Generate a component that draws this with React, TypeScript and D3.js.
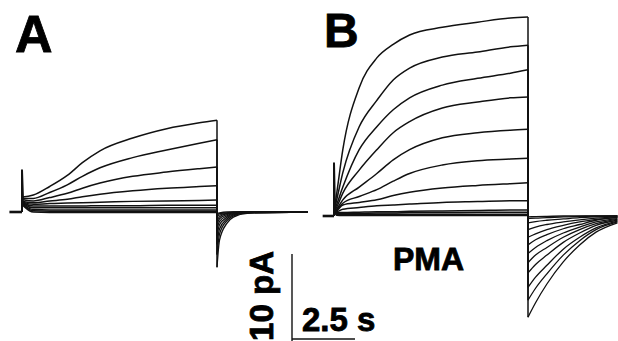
import * as d3 from 'd3';

const W = 618;
const H = 341;

// time (s) from the start of the depolarising step
const timesA = [0, 0.1, 0.45, 1.1, 1.8, 2.4, 3.1, 4.4, 5.75, 7.05, 7.75];
const timesB = [0, 0.1, 0.35, 1.0, 1.7, 2.35, 3.0, 4.3, 5.7, 7.0, 7.7];

// current (pA) during the step, control (A)
const stepA = [
  [1.8, 1.8, 2.0, 3.0, 4.3, 5.8, 7.2, 8.7, 9.8, 10.5, 10.8],
  [1.7, 1.6, 1.6, 2.3, 3.2, 4.2, 5.2, 6.4, 7.3, 8.1, 8.5],
  [1.6, 1.4, 1.3, 1.7, 2.2, 2.8, 3.4, 4.2, 4.7, 5.1, 5.3],
  [1.5, 1.2, 1.1, 1.3, 1.5, 1.8, 2.1, 2.5, 2.8, 3.0, 3.1],
  [1.4, 1.1, 0.9, 1.0, 1.05, 1.1, 1.15, 1.25, 1.3, 1.35, 1.4],
  [1.3, 1.0, 0.7, 0.7, 0.7, 0.7, 0.75, 0.75, 0.8, 0.8, 0.8],
  [1.2, 0.9, 0.5, 0.5, 0.5, 0.5, 0.5, 0.5, 0.5, 0.5, 0.5],
  [1.1, 0.8, 0.3, 0.25, 0.25, 0.25, 0.25, 0.25, 0.25, 0.25, 0.25],
  [1.0, 0.7, 0.15, 0.1, 0.1, 0.1, 0.1, 0.1, 0.1, 0.1, 0.1],
  [0.9, 0.6, 0.0, -0.05, -0.05, -0.05, -0.05, -0.05, -0.05, -0.05, -0.05],
];

// current (pA) during the step, PMA (B)
const stepB = [
  [0.5, 2.5, 7.8, 15.1, 18.6, 20.2, 21.3, 22.2, 22.8, 23.3, 23.4],
  [0.5, 1.8, 5.1, 10.5, 13.6, 16.0, 17.4, 18.7, 19.3, 19.9, 20.1],
  [0.5, 1.3, 3.4, 7.8, 10.5, 12.5, 13.9, 15.4, 16.2, 16.8, 17.2],
  [0.5, 1.0, 2.7, 5.4, 7.8, 9.8, 11.1, 12.7, 13.4, 13.9, 14.0],
  [0.5, 0.8, 1.9, 3.4, 5.0, 6.6, 7.8, 9.2, 9.8, 10.1, 10.2],
  [0.5, 0.7, 1.5, 2.3, 3.1, 4.1, 5.0, 6.0, 6.5, 6.7, 6.8],
  [0.5, 0.6, 1.3, 1.6, 1.9, 2.4, 2.8, 3.3, 3.6, 3.8, 3.9],
  [0.5, 0.5, 0.8, 1.0, 1.2, 1.3, 1.4, 1.6, 1.7, 1.8, 1.8],
  [0.5, 0.4, 0.4, 0.45, 0.5, 0.5, 0.55, 0.6, 0.65, 0.7, 0.7],
  [0.5, 0.3, 0.3, 0.3, 0.35, 0.35, 0.4, 0.4, 0.45, 0.45, 0.45],
  [0.5, 0.2, 0.2, 0.2, 0.2, 0.2, 0.2, 0.2, 0.2, 0.2, 0.2],
  [0.5, 0.1, 0.05, 0.05, 0.05, 0.05, 0.05, 0.05, 0.05, 0.05, 0.05],
];

// tail currents after repolarisation (s after step end, pA)
const tailTimesA = [0, 0.1, 0.4, 0.65, 1.2, 3.6];
const tailA = [
  [-6.5, -3.3, -1.3, -0.6, -0.15, 0],
  [-5.0, -2.6, -1.0, -0.45, -0.1, 0],
  [-3.8, -2.0, -0.8, -0.35, -0.1, 0],
  [-2.8, -1.5, -0.6, -0.25, -0.05, 0],
  [-2.0, -1.1, -0.45, -0.2, -0.05, 0],
  [-1.4, -0.8, -0.3, -0.1, 0, 0],
  [-1.0, -0.55, -0.2, -0.1, 0, 0],
  [-0.6, -0.35, -0.15, -0.05, 0, 0],
  [-0.4, -0.2, -0.1, 0, 0, 0],
  [-0.2, -0.1, 0, 0, 0, 0],
];

const tailTimesB = [0, 0.3, 0.75, 1.4, 2.05, 2.7, 3.55];
const tailB = [
  [-11.9, -10.2, -8.0, -5.4, -3.4, -1.9, -0.8],
  [-9.9, -8.5, -6.8, -4.6, -2.9, -1.6, -0.7],
  [-8.4, -7.2, -5.8, -3.9, -2.5, -1.4, -0.6],
  [-6.7, -5.7, -4.6, -3.1, -2.0, -1.1, -0.5],
  [-5.5, -4.6, -3.7, -2.5, -1.6, -0.9, -0.4],
  [-4.4, -3.7, -2.9, -2.0, -1.3, -0.7, -0.3],
  [-3.4, -2.8, -2.2, -1.5, -1.0, -0.5, -0.2],
  [-2.5, -2.1, -1.6, -1.1, -0.7, -0.4, -0.15],
  [-1.6, -1.3, -1.0, -0.7, -0.45, -0.25, -0.1],
  [-0.8, -0.65, -0.5, -0.35, -0.2, -0.1, 0],
  [-0.3, -0.25, -0.2, -0.1, -0.05, 0, 0],
  [-0.1, -0.08, -0.05, 0, 0, 0, 0],
];

// holding segment before the step and capacitive spike
const preA = [-0.5, 0];
const preB = [-0.45, 0];
const spikeTimes = [0, 0, 0.04];
const spikeA = [0, 4.9, 1.5];
const spikeB = [0, 6.2, 0.6];

const INK = '#111';
const FONT = '"Liberation Sans", Arial, sans-serif';

type Pt = [number, number];

interface PanelProps {
  x: d3.ScaleLinear<number, number>;
  y: d3.ScaleLinear<number, number>;
  times: number[];
  step: number[][];
  tailTimes: number[];
  tail: number[][];
  pre: number[];
  spike: number[];
}

const Panel = ({ x, y, times, step, tailTimes, tail, pre, spike }: PanelProps) => {
  const tEnd = times[times.length - 1];
  const smooth = d3
    .line<Pt>()
    .x((d) => x(d[0]))
    .y((d) => y(d[1]))
    .curve(d3.curveMonotoneX);
  const straight = d3
    .line<Pt>()
    .x((d) => x(d[0]))
    .y((d) => y(d[1]));

  return (
    <g fill="none" stroke={INK} strokeLinejoin="round">
      <path d={straight(pre.map((t) => [t, 0] as Pt)) ?? ''} strokeWidth={2.6} />
      {step.map((vals, i) => (
        <path
          key={`s${i}`}
          d={smooth(times.map((t, j) => [t, vals[j]] as Pt)) ?? ''}
          strokeWidth={1.5}
        />
      ))}
      {tail.map((vals, i) => (
        <path
          key={`t${i}`}
          d={smooth(tailTimes.map((t, j) => [tEnd + t, vals[j]] as Pt)) ?? ''}
          strokeWidth={1.3}
        />
      ))}
      {step.map((vals, i) => (
        <line
          key={`v${i}`}
          x1={x(tEnd)}
          x2={x(tEnd)}
          y1={y(vals[vals.length - 1])}
          y2={y(tail[i][0])}
          strokeWidth={1.5}
        />
      ))}
      <path
        d={straight(spikeTimes.map((t, j) => [t, spike[j]] as Pt)) ?? ''}
        strokeWidth={2}
      />
    </g>
  );
};

export default function App() {
  const xA = d3.scaleLinear().domain([0, 7.75]).range([22, 217]);
  const yA = d3.scaleLinear().domain([0, 10]).range([212, 127]);
  const xB = d3.scaleLinear().domain([0, 7.7]).range([334, 528]);
  const yB = d3.scaleLinear().domain([0, 10]).range([216, 131]);

  // scale bar: 10 pA by 2.5 s
  const barX = 292;
  const barY = 339;
  const barH = yB(0) - yB(10);
  const barW = xB(2.5) - xB(0);

  return (
    <svg
      width={W}
      height={H}
      style={{ position: 'absolute', left: 0, top: 0, background: '#fff' }}
    >
      <rect width={W} height={H} fill="#fff" />
      <Panel
        x={xA}
        y={yA}
        times={timesA}
        step={stepA}
        tailTimes={tailTimesA}
        tail={tailA}
        pre={preA}
        spike={spikeA}
      />
      <Panel
        x={xB}
        y={yB}
        times={timesB}
        step={stepB}
        tailTimes={tailTimesB}
        tail={tailB}
        pre={preB}
        spike={spikeB}
      />
      <g
        fontFamily={FONT}
        fontWeight="bold"
        fill="#000"
        stroke="#000"
        strokeWidth={0.8}
      >
        <text x={15} y={52} fontSize={52}>
          A
        </text>
        <text x={324} y={47} fontSize={48}>
          B
        </text>
        <text x={393} y={270} fontSize={32}>
          PMA
        </text>
        <text x={302} y={331} fontSize={33}>
          2.5 s
        </text>
        <text
          transform="translate(273, 251) rotate(-90)"
          textAnchor="end"
          fontSize={33}
        >
          10 pA
        </text>
      </g>
      <g stroke={INK} strokeWidth={1.4} fill="none">
        <line x1={barX} x2={barX} y1={barY - barH} y2={H} />
        <line x1={barX} x2={barX + barW} y1={barY} y2={barY} />
      </g>
    </svg>
  );
}
